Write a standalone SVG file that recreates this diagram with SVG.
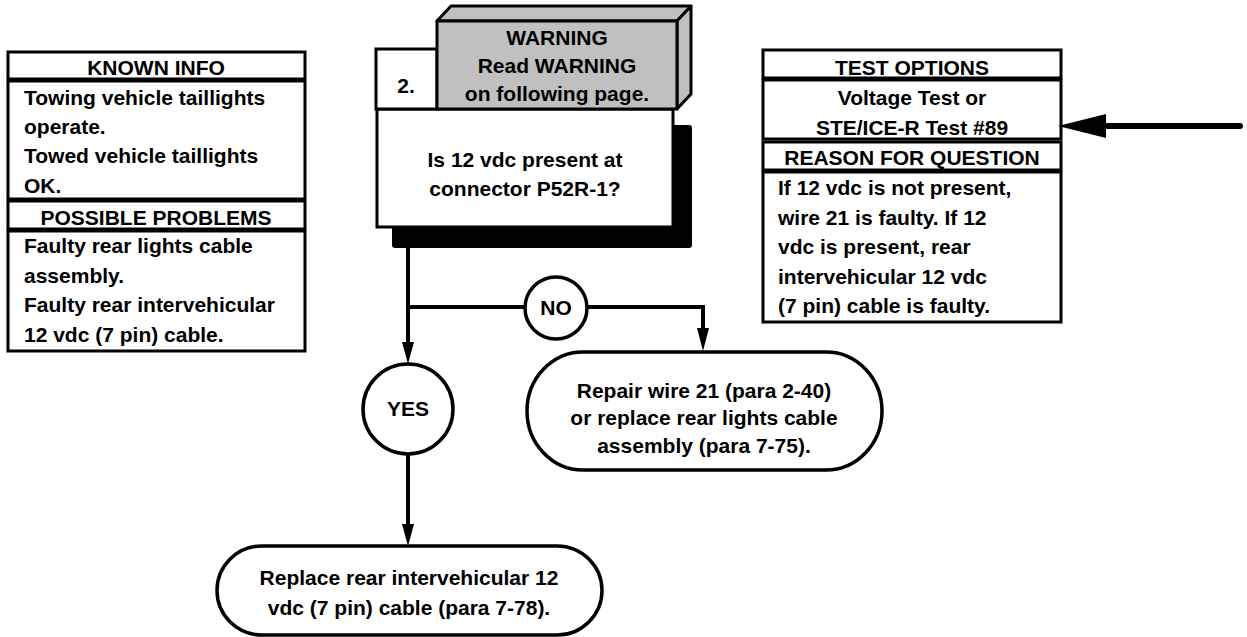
<svg xmlns="http://www.w3.org/2000/svg" width="1247" height="637" viewBox="0 0 1247 637">
<style>
text{font-family:"Liberation Sans",Arial,sans-serif;font-weight:bold;font-size:21px;fill:#000}
.c{text-anchor:middle}
.box{fill:#fff;stroke:#000;stroke-width:3}
.gray{fill:#c0c0c0;stroke:#000;stroke-width:3;stroke-linejoin:round}
.ln{fill:none;stroke:#000;stroke-width:4}
.ah{fill:#000}
</style>
<rect width="1247" height="637" fill="#fff"/>
<g id="known-info">
<rect class="box" x="8" y="52" width="297" height="27"/>
<rect class="box" x="8" y="81" width="297" height="118"/>
<rect class="box" x="8" y="201" width="297" height="28"/>
<rect class="box" x="8" y="231" width="297" height="120"/>
<text class="c" x="156" y="75">KNOWN INFO</text>
<text x="24" y="105">Towing vehicle taillights</text>
<text x="24" y="134">operate.</text>
<text x="24" y="163">Towed vehicle taillights</text>
<text x="24" y="193">OK.</text>
<text class="c" x="156" y="225">POSSIBLE PROBLEMS</text>
<text x="24" y="253">Faulty rear lights cable</text>
<text x="24" y="283">assembly.</text>
<text x="24" y="312">Faulty rear intervehicular</text>
<text x="24" y="342">12 vdc (7 pin) cable.</text>
</g>
<g id="test-options">
<rect class="box" x="763" y="50" width="298" height="28"/>
<rect class="box" x="763" y="80" width="298" height="59"/>
<rect class="box" x="763" y="142" width="298" height="28"/>
<rect class="box" x="763" y="172" width="298" height="150"/>
<text class="c" x="912" y="75">TEST OPTIONS</text>
<text class="c" x="912" y="105">Voltage Test or</text>
<text class="c" x="912" y="135">STE/ICE-R Test #89</text>
<text class="c" x="912" y="165">REASON FOR QUESTION</text>
<text x="778" y="195">If 12 vdc is not present,</text>
<text x="778" y="225">wire 21 is faulty. If 12</text>
<text x="778" y="254">vdc is present, rear</text>
<text x="778" y="284">intervehicular 12 vdc</text>
<text x="778" y="313">(7 pin) cable is faulty.</text>
</g>
<g id="pointer-arrow">
<line x1="1240" y1="126" x2="1100" y2="126" stroke="#000" stroke-width="6" stroke-linecap="round"/>
<polygon points="1058,126 1106,114 1106,138" fill="#000"/>
</g>
<g id="step-2">
<rect x="392" y="125" width="300" height="123" rx="3" fill="#000"/>
<rect class="box" x="377" y="109" width="296" height="118"/>
<rect class="box" x="376" y="49" width="61" height="60"/>
<polygon class="gray" points="437,21 451,6 691,6 677,21"/>
<polygon class="gray" points="677,21 691,6 691,94 677,109"/>
<rect class="gray" x="437" y="21" width="240" height="88"/>
<text class="c" x="557" y="45">WARNING</text>
<text class="c" x="557" y="73">Read WARNING</text>
<text class="c" x="557" y="101">on following page.</text>
<text class="c" x="406" y="93">2.</text>
<text class="c" x="525" y="167">Is 12 vdc present at</text>
<text class="c" x="525" y="196">connector P52R-1?</text>
</g>
<g id="connectors">
<polyline class="ln" points="408,248 408,344"/>
<polygon class="ah" points="408,364 402,342 414,342"/>
<line class="ln" x1="408" y1="307" x2="525" y2="307"/>
<polyline class="ln" points="587,307 703,307 703,330"/>
<polygon class="ah" points="703,351 697,328 709,328"/>
<line class="ln" x1="408" y1="454" x2="408" y2="527"/>
<polygon class="ah" points="408,546 402,524 414,524"/>
</g>
<g id="no">
<circle cx="556" cy="308" r="31" fill="#fff" stroke="#000" stroke-width="3.5"/>
<text class="c" x="556" y="315">NO</text>
</g>
<g id="yes">
<circle cx="408" cy="409" r="45" fill="#fff" stroke="#000" stroke-width="3.5"/>
<text class="c" x="408" y="416">YES</text>
</g>
<g id="repair">
<rect x="527" y="352" width="355" height="118" rx="56" ry="59" fill="#fff" stroke="#000" stroke-width="3.5"/>
<text class="c" x="704" y="398">Repair wire 21 (para 2-40)</text>
<text class="c" x="704" y="425">or replace rear lights cable</text>
<text class="c" x="704" y="453">assembly (para 7-75).</text>
</g>
<g id="replace">
<rect x="217" y="546" width="385" height="89" rx="45" ry="44.5" fill="#fff" stroke="#000" stroke-width="3.5"/>
<text class="c" x="409" y="585">Replace rear intervehicular 12</text>
<text class="c" x="409" y="615">vdc (7 pin) cable (para 7-78).</text>
</g>
</svg>
